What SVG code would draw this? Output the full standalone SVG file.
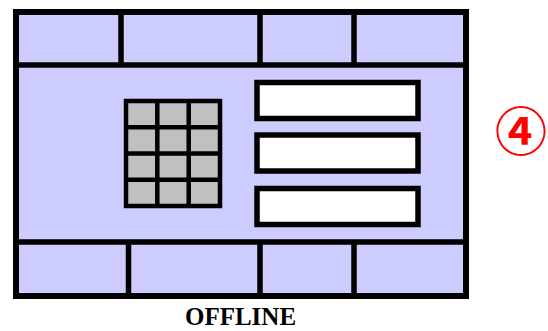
<svg xmlns="http://www.w3.org/2000/svg" width="548" height="331" viewBox="0 0 548 331">
<style>
.panel{fill:#ccccff;stroke:#000;stroke-width:6}
.div{stroke:#000;stroke-width:5.5;fill:none}
.key{fill:#c0c0c0;stroke:#000;stroke-width:4.5}
.slot{fill:#fff;stroke:#000;stroke-width:5.5}
.label{font-family:"Liberation Serif","Times New Roman",serif;font-weight:bold;font-size:25px;fill:#000}
.num{font-family:"Noto Sans CJK JP","DejaVu Sans",sans-serif;font-weight:bold;font-size:52px;fill:#ff0000}
</style>
<g id="device">
<rect class="panel" x="16" y="12" width="450" height="284"/>
<line class="div" x1="16" y1="65" x2="466" y2="65"/>
<line class="div" x1="16" y1="242" x2="466" y2="242"/>
<line class="div" x1="121" y1="12" x2="121" y2="65"/>
<line class="div" x1="260" y1="12" x2="260" y2="65"/>
<line class="div" x1="354" y1="12" x2="354" y2="65"/>
<line class="div" x1="128.5" y1="242" x2="128.5" y2="296"/>
<line class="div" x1="260" y1="242" x2="260" y2="296"/>
<line class="div" x1="354" y1="242" x2="354" y2="296"/>
</g>
<g id="keypad">
<rect class="key" x="126" y="101" width="94" height="105"/>
<line class="key" x1="157.3" y1="101" x2="157.3" y2="206"/>
<line class="key" x1="188.7" y1="101" x2="188.7" y2="206"/>
<line class="key" x1="126" y1="127.3" x2="220" y2="127.3"/>
<line class="key" x1="126" y1="153.5" x2="220" y2="153.5"/>
<line class="key" x1="126" y1="179.8" x2="220" y2="179.8"/>
</g>
<g id="slots">
<rect class="slot" x="257" y="82.5" width="161" height="36"/>
<rect class="slot" x="257" y="135" width="161" height="36"/>
<rect class="slot" x="257" y="188.5" width="161" height="36"/>
</g>
<g id="marker">
<text class="num" x="521" y="151" text-anchor="middle">④</text>
</g>
<g id="caption">
<text class="label" x="240.5" y="325" text-anchor="middle">OFFLINE</text>
</g>
</svg>
